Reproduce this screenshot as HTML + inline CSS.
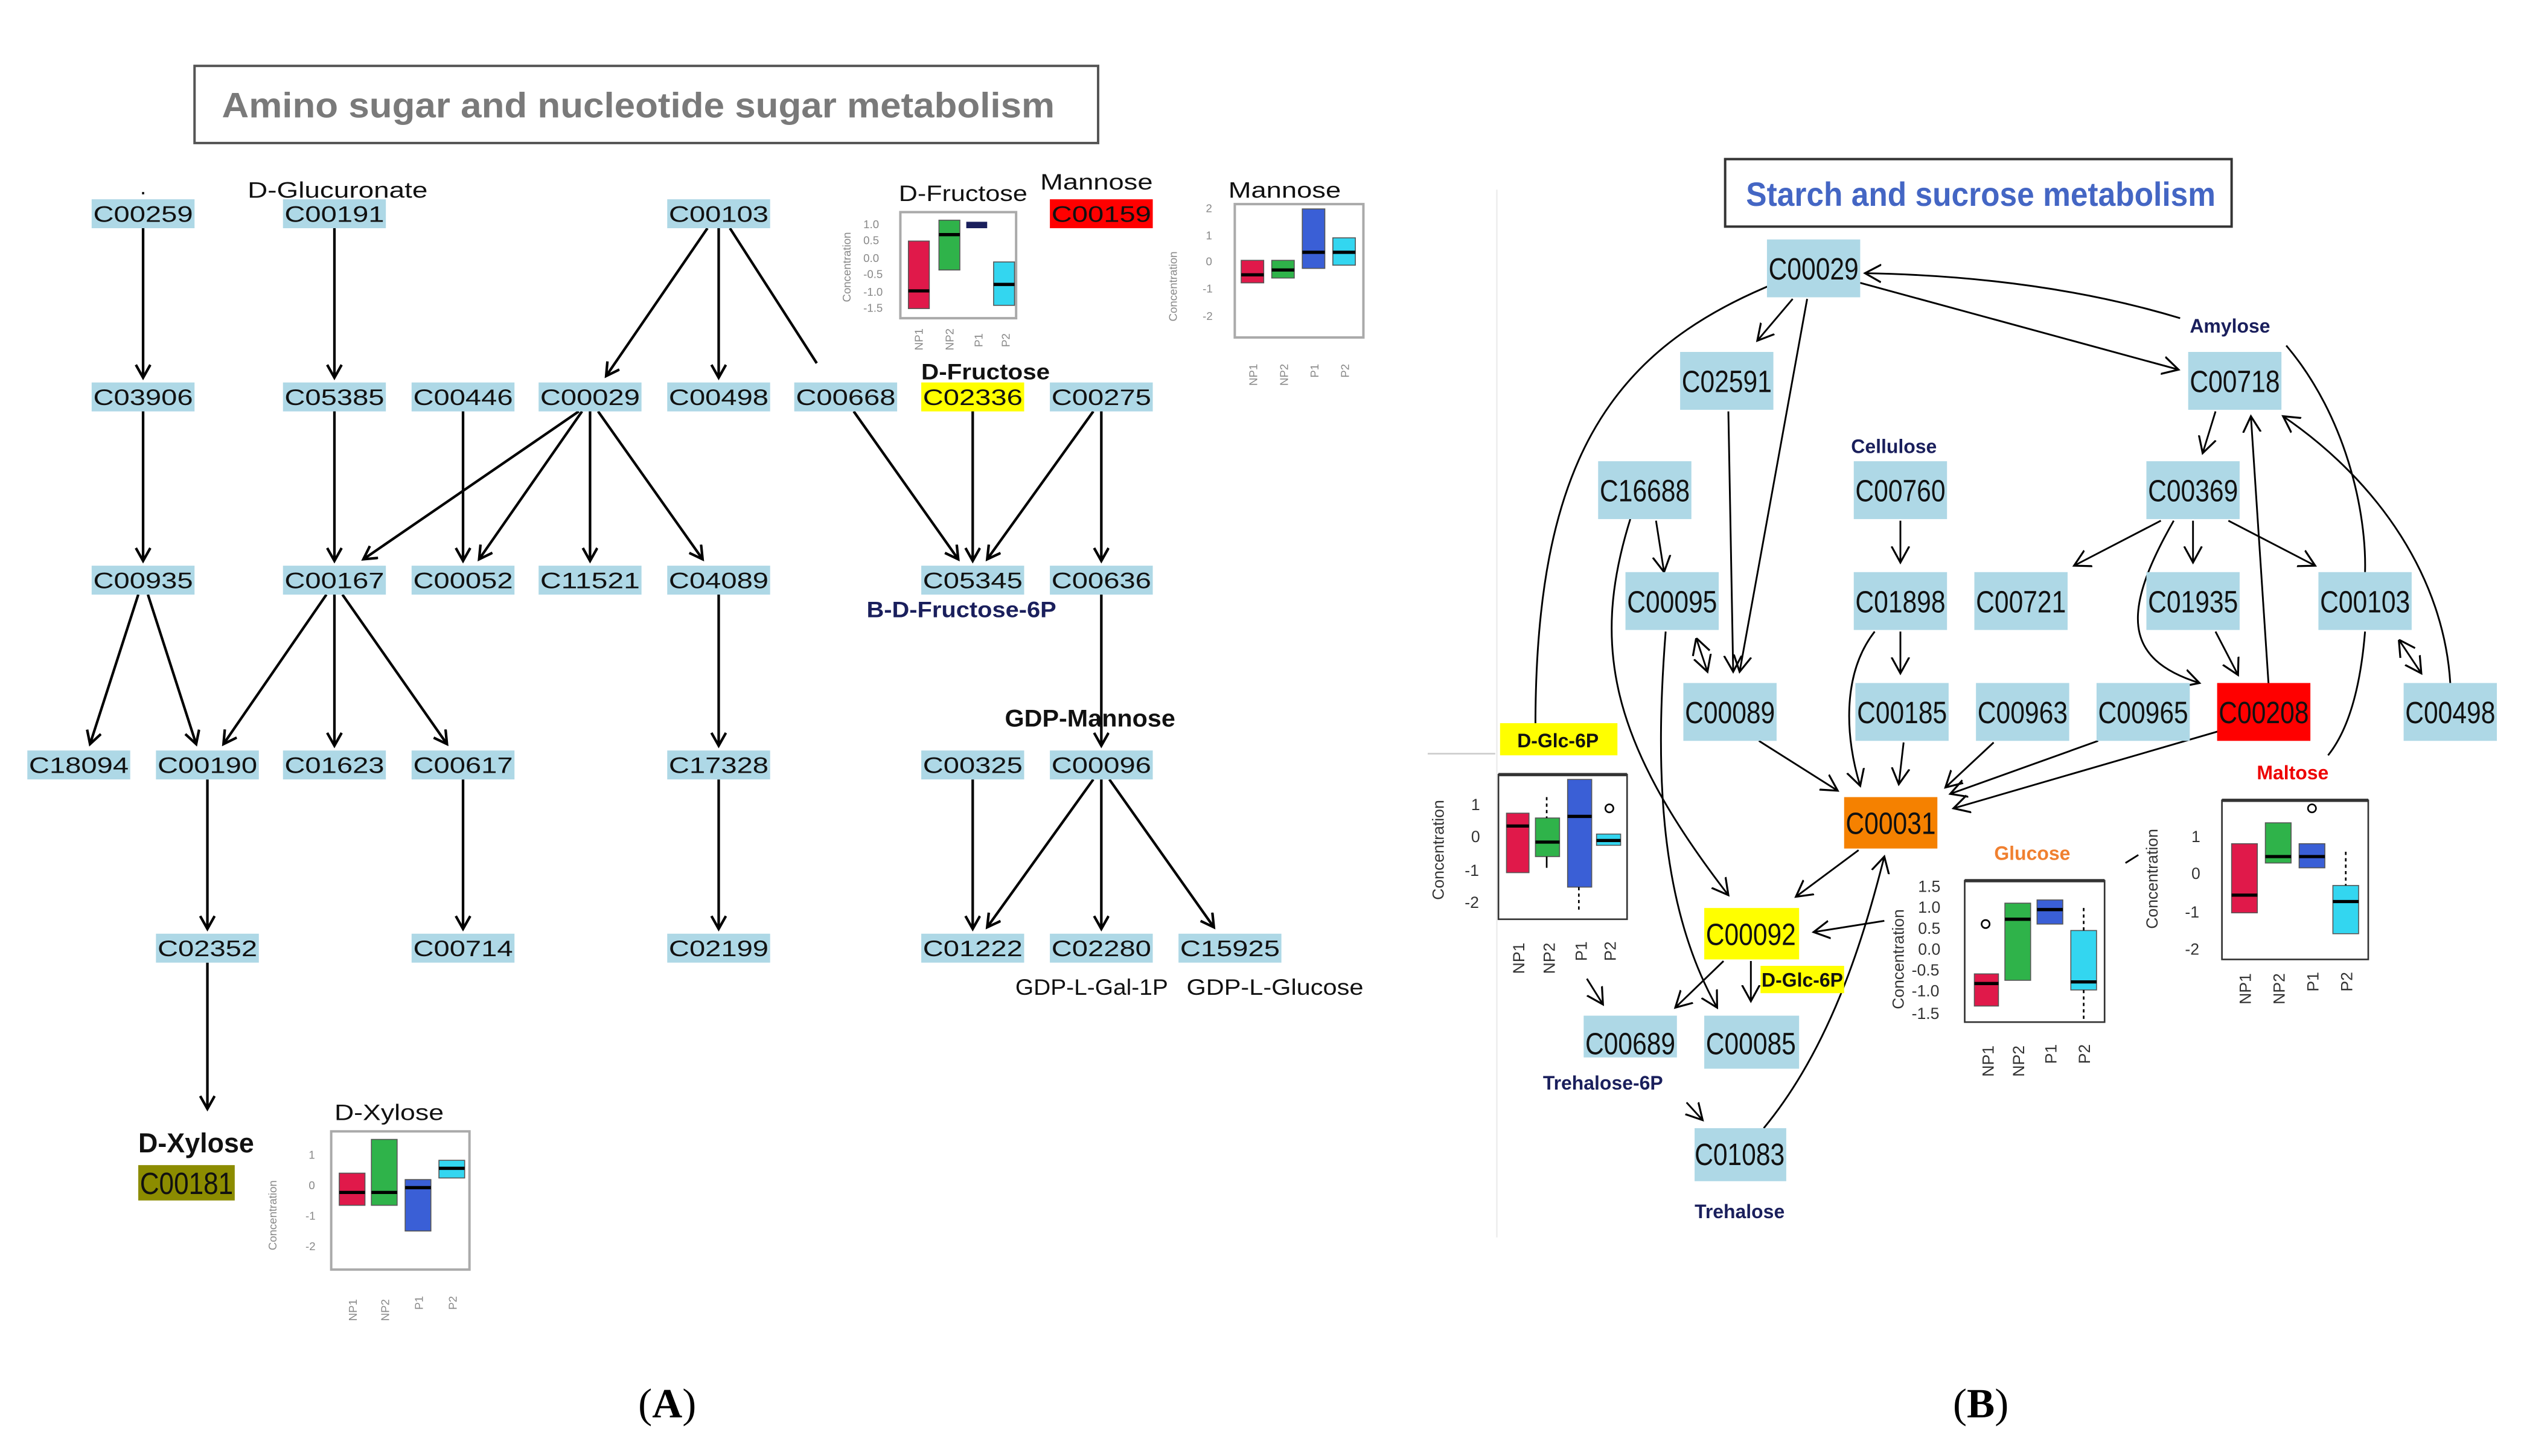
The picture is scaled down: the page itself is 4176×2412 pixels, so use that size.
<!DOCTYPE html>
<html><head><meta charset="utf-8"><style>
html,body{margin:0;padding:0;background:#fff;}
svg{display:block;}
.na rect{fill:#aed8e6;}
.na text{font-family:"Liberation Sans",sans-serif;font-size:14px;fill:#111;text-anchor:middle;}
.nb rect{fill:#aed8e6;}
.nb text{font-family:"Liberation Sans",sans-serif;font-size:19px;fill:#111;text-anchor:middle;}
.e{stroke:#000;stroke-width:1.6;fill:none;marker-end:url(#ah);}
.f{stroke:#000;stroke-width:1.1;fill:none;marker-end:url(#ah2);}
.g{stroke:#000;stroke-width:1.1;fill:none;}
.lb{font-family:"Liberation Sans",sans-serif;font-size:14px;fill:#111;text-anchor:middle;}
.bl{font-family:"Liberation Sans",sans-serif;font-size:12px;font-weight:bold;fill:#1a1f5c;text-anchor:middle;}
.ax{font-family:"Liberation Sans",sans-serif;font-size:10px;fill:#333;}
.axs{font-family:"Liberation Sans",sans-serif;font-size:7px;fill:#888;}
</style></head><body>
<svg width="4176" height="2412" viewBox="0 0 1568 906" preserveAspectRatio="none" xmlns="http://www.w3.org/2000/svg">
<defs>
<marker id="ah" markerUnits="userSpaceOnUse" markerWidth="14" markerHeight="14" refX="9" refY="5" orient="auto"><path d="M1,0.5 L9,5 L1,9.5" fill="none" stroke="#000" stroke-width="1.6"/></marker>
<marker id="ah2" markerUnits="userSpaceOnUse" markerWidth="14" markerHeight="14" refX="10" refY="6" orient="auto"><path d="M0,0.5 L10,6 L0,11.5" fill="none" stroke="#000" stroke-width="1.2"/></marker>
<marker id="as2" markerUnits="userSpaceOnUse" markerWidth="14" markerHeight="14" refX="0" refY="6" orient="auto"><path d="M10,0.5 L0,6 L10,11.5" fill="none" stroke="#000" stroke-width="1.2"/></marker>
</defs>
<rect width="1568" height="906" fill="#fff"/>

<!-- ===== PANEL A ===== -->
<rect x="121" y="41" width="562" height="48" fill="#fff" stroke="#555" stroke-width="1.5"/>
<text x="397" y="73" font-family="Liberation Sans,sans-serif" font-size="22" font-weight="bold" fill="#7a7a7a" text-anchor="middle" textLength="518" lengthAdjust="spacingAndGlyphs">Amino sugar and nucleotide sugar metabolism</text>

<g class="e">
<line x1="89" y1="142" x2="89" y2="235"/>
<line x1="208" y1="142" x2="208" y2="235"/>
<line x1="440" y1="142" x2="377" y2="234"/>
<line x1="447" y1="142" x2="447" y2="235"/>
<line x1="89" y1="256" x2="89" y2="349"/>
<line x1="208" y1="256" x2="208" y2="349"/>
<line x1="288" y1="256" x2="288" y2="349"/>
<line x1="360" y1="256" x2="226" y2="348"/>
<line x1="362" y1="256" x2="298" y2="348"/>
<line x1="367" y1="256" x2="367" y2="349"/>
<line x1="372" y1="256" x2="437" y2="348"/>
<line x1="531" y1="256" x2="596" y2="348"/>
<line x1="605" y1="256" x2="605" y2="349"/>
<line x1="680" y1="256" x2="614" y2="348"/>
<line x1="685" y1="256" x2="685" y2="349"/>
<line x1="86" y1="370" x2="56" y2="463"/>
<line x1="92" y1="370" x2="122" y2="463"/>
<line x1="203" y1="370" x2="139" y2="463"/>
<line x1="208" y1="370" x2="208" y2="464"/>
<line x1="213" y1="370" x2="278" y2="463"/>
<line x1="447" y1="370" x2="447" y2="464"/>
<line x1="685" y1="370" x2="685" y2="464"/>
<line x1="129" y1="485" x2="129" y2="578"/>
<line x1="288" y1="485" x2="288" y2="578"/>
<line x1="447" y1="485" x2="447" y2="578"/>
<line x1="605" y1="485" x2="605" y2="578"/>
<line x1="680" y1="485" x2="614" y2="577"/>
<line x1="685" y1="485" x2="685" y2="578"/>
<line x1="690" y1="485" x2="755" y2="577"/>
<line x1="129" y1="599" x2="129" y2="690"/>
</g>
<line x1="454" y1="142" x2="508" y2="226" stroke="#000" stroke-width="1.6"/>

<g class="na">
<rect x="57" y="124" width="64" height="18"/><text x="89" y="138" textLength="62" lengthAdjust="spacingAndGlyphs">C00259</text>
<rect x="176" y="124" width="64" height="18"/><text x="208" y="138" textLength="62" lengthAdjust="spacingAndGlyphs">C00191</text>
<rect x="415" y="124" width="64" height="18"/><text x="447" y="138" textLength="62" lengthAdjust="spacingAndGlyphs">C00103</text>
<rect x="653" y="124" width="64" height="18" style="fill:#f00"/><text x="685" y="138" textLength="62" lengthAdjust="spacingAndGlyphs">C00159</text>
<rect x="57" y="238" width="64" height="18"/><text x="89" y="252" textLength="62" lengthAdjust="spacingAndGlyphs">C03906</text>
<rect x="176" y="238" width="64" height="18"/><text x="208" y="252" textLength="62" lengthAdjust="spacingAndGlyphs">C05385</text>
<rect x="256" y="238" width="64" height="18"/><text x="288" y="252" textLength="62" lengthAdjust="spacingAndGlyphs">C00446</text>
<rect x="335" y="238" width="64" height="18"/><text x="367" y="252" textLength="62" lengthAdjust="spacingAndGlyphs">C00029</text>
<rect x="415" y="238" width="64" height="18"/><text x="447" y="252" textLength="62" lengthAdjust="spacingAndGlyphs">C00498</text>
<rect x="494" y="238" width="64" height="18"/><text x="526" y="252" textLength="62" lengthAdjust="spacingAndGlyphs">C00668</text>
<rect x="573" y="238" width="64" height="18" style="fill:#ff0"/><text x="605" y="252" textLength="62" lengthAdjust="spacingAndGlyphs">C02336</text>
<rect x="653" y="238" width="64" height="18"/><text x="685" y="252" textLength="62" lengthAdjust="spacingAndGlyphs">C00275</text>
<rect x="57" y="352" width="64" height="18"/><text x="89" y="366" textLength="62" lengthAdjust="spacingAndGlyphs">C00935</text>
<rect x="176" y="352" width="64" height="18"/><text x="208" y="366" textLength="62" lengthAdjust="spacingAndGlyphs">C00167</text>
<rect x="256" y="352" width="64" height="18"/><text x="288" y="366" textLength="62" lengthAdjust="spacingAndGlyphs">C00052</text>
<rect x="335" y="352" width="64" height="18"/><text x="367" y="366" textLength="62" lengthAdjust="spacingAndGlyphs">C11521</text>
<rect x="415" y="352" width="64" height="18"/><text x="447" y="366" textLength="62" lengthAdjust="spacingAndGlyphs">C04089</text>
<rect x="573" y="352" width="64" height="18"/><text x="605" y="366" textLength="62" lengthAdjust="spacingAndGlyphs">C05345</text>
<rect x="653" y="352" width="64" height="18"/><text x="685" y="366" textLength="62" lengthAdjust="spacingAndGlyphs">C00636</text>
<rect x="17" y="467" width="64" height="18"/><text x="49" y="481" textLength="62" lengthAdjust="spacingAndGlyphs">C18094</text>
<rect x="97" y="467" width="64" height="18"/><text x="129" y="481" textLength="62" lengthAdjust="spacingAndGlyphs">C00190</text>
<rect x="176" y="467" width="64" height="18"/><text x="208" y="481" textLength="62" lengthAdjust="spacingAndGlyphs">C01623</text>
<rect x="256" y="467" width="64" height="18"/><text x="288" y="481" textLength="62" lengthAdjust="spacingAndGlyphs">C00617</text>
<rect x="415" y="467" width="64" height="18"/><text x="447" y="481" textLength="62" lengthAdjust="spacingAndGlyphs">C17328</text>
<rect x="573" y="467" width="64" height="18"/><text x="605" y="481" textLength="62" lengthAdjust="spacingAndGlyphs">C00325</text>
<rect x="653" y="467" width="64" height="18"/><text x="685" y="481" textLength="62" lengthAdjust="spacingAndGlyphs">C00096</text>
<rect x="97" y="581" width="64" height="18"/><text x="129" y="595" textLength="62" lengthAdjust="spacingAndGlyphs">C02352</text>
<rect x="256" y="581" width="64" height="18"/><text x="288" y="595" textLength="62" lengthAdjust="spacingAndGlyphs">C00714</text>
<rect x="415" y="581" width="64" height="18"/><text x="447" y="595" textLength="62" lengthAdjust="spacingAndGlyphs">C02199</text>
<rect x="573" y="581" width="64" height="18"/><text x="605" y="595" textLength="62" lengthAdjust="spacingAndGlyphs">C01222</text>
<rect x="653" y="581" width="64" height="18"/><text x="685" y="595" textLength="62" lengthAdjust="spacingAndGlyphs">C02280</text>
<rect x="733" y="581" width="64" height="18"/><text x="765" y="595" textLength="62" lengthAdjust="spacingAndGlyphs">C15925</text>
</g>
<rect x="86" y="725" width="60" height="22" fill="#8c8c00"/>
<text x="116" y="743" font-family="Liberation Sans,sans-serif" font-size="19" fill="#111" text-anchor="middle" textLength="58" lengthAdjust="spacingAndGlyphs">C00181</text>

<text class="lb" x="89" y="121">.</text>
<text class="lb" x="210" y="123" textLength="112" lengthAdjust="spacingAndGlyphs">D-Glucuronate</text>
<text class="lb" x="599" y="125" textLength="80" lengthAdjust="spacingAndGlyphs">D-Fructose</text>
<text class="lb" x="682" y="118" textLength="70" lengthAdjust="spacingAndGlyphs">Mannose</text>
<text class="lb" x="799" y="123" textLength="70" lengthAdjust="spacingAndGlyphs">Mannose</text>
<text class="lb" x="613" y="236" style="font-weight:bold" textLength="80" lengthAdjust="spacingAndGlyphs">D-Fructose</text>
<text class="lb" x="598" y="384" style="fill:#1a1f5c;font-weight:bold;font-size:14px" textLength="118" lengthAdjust="spacingAndGlyphs">B-D-Fructose-6P</text>
<text class="lb" x="678" y="452" style="font-weight:bold;font-size:15px" textLength="106" lengthAdjust="spacingAndGlyphs">GDP-Mannose</text>
<text class="lb" x="679" y="619" textLength="95" lengthAdjust="spacingAndGlyphs">GDP-L-Gal-1P</text>
<text class="lb" x="793" y="619" textLength="110" lengthAdjust="spacingAndGlyphs">GDP-L-Glucose</text>
<text class="lb" x="122" y="717" style="font-weight:bold;font-size:17px" textLength="72" lengthAdjust="spacingAndGlyphs">D-Xylose</text>
<text class="lb" x="242" y="697" textLength="68" lengthAdjust="spacingAndGlyphs">D-Xylose</text>

<!-- fructose plot -->
<g>
<rect x="560" y="132" width="72" height="66" fill="none" stroke="#aaa" stroke-width="1.5"/>
<g class="axs"><text x="537" y="142">1.0</text><text x="537" y="152">0.5</text><text x="537" y="163">0.0</text><text x="537" y="173">-0.5</text><text x="537" y="184">-1.0</text><text x="537" y="194">-1.5</text>
<text transform="translate(529,188) rotate(-90)">Concentration</text>
<text transform="translate(574,218) rotate(-90)">NP1</text><text transform="translate(593,218) rotate(-90)">NP2</text><text transform="translate(611,216) rotate(-90)">P1</text><text transform="translate(628,216) rotate(-90)">P2</text></g>
<rect x="565" y="150" width="13" height="42" fill="#e0194a" stroke="#555" stroke-width=".6"/><line x1="565" y1="181" x2="578" y2="181" stroke="#000" stroke-width="2"/>
<rect x="584" y="137" width="13" height="31" fill="#2fb34a" stroke="#555" stroke-width=".6"/><line x1="584" y1="146" x2="597" y2="146" stroke="#000" stroke-width="2"/>
<rect x="601" y="138" width="13" height="4" fill="#1a1f5c"/>
<rect x="618" y="163" width="13" height="27" fill="#33d6f0" stroke="#555" stroke-width=".6"/><line x1="618" y1="177" x2="631" y2="177" stroke="#000" stroke-width="2"/>
</g>
<!-- mannose plot -->
<g>
<rect x="768" y="127" width="80" height="83" fill="none" stroke="#aaa" stroke-width="1.5"/>
<g class="axs"><text x="750" y="132">2</text><text x="750" y="149">1</text><text x="750" y="165">0</text><text x="748" y="182">-1</text><text x="748" y="199">-2</text>
<text transform="translate(732,200) rotate(-90)">Concentration</text>
<text transform="translate(782,240) rotate(-90)">NP1</text><text transform="translate(801,240) rotate(-90)">NP2</text><text transform="translate(820,235) rotate(-90)">P1</text><text transform="translate(839,235) rotate(-90)">P2</text></g>
<rect x="772" y="162" width="14" height="14" fill="#e0194a" stroke="#555" stroke-width=".6"/><line x1="772" y1="171" x2="786" y2="171" stroke="#000" stroke-width="2"/>
<rect x="791" y="162" width="14" height="11" fill="#2fb34a" stroke="#555" stroke-width=".6"/><line x1="791" y1="168" x2="805" y2="168" stroke="#000" stroke-width="2"/>
<rect x="810" y="130" width="14" height="37" fill="#3a5fd6" stroke="#555" stroke-width=".6"/><line x1="810" y1="157" x2="824" y2="157" stroke="#000" stroke-width="2"/>
<rect x="829" y="148" width="14" height="17" fill="#33d6f0" stroke="#555" stroke-width=".6"/><line x1="829" y1="157" x2="843" y2="157" stroke="#000" stroke-width="2"/>
</g>
<!-- xylose plot -->
<g>
<rect x="206" y="704" width="86" height="86" fill="none" stroke="#aaa" stroke-width="1.5"/>
<g class="axs"><text x="192" y="721">1</text><text x="192" y="740">0</text><text x="190" y="759">-1</text><text x="190" y="778">-2</text>
<text transform="translate(172,778) rotate(-90)">Concentration</text>
<text transform="translate(222,822) rotate(-90)">NP1</text><text transform="translate(242,822) rotate(-90)">NP2</text><text transform="translate(263,815) rotate(-90)">P1</text><text transform="translate(284,815) rotate(-90)">P2</text></g>
<rect x="211" y="730" width="16" height="20" fill="#e0194a" stroke="#555" stroke-width=".6"/><line x1="211" y1="742" x2="227" y2="742" stroke="#000" stroke-width="2"/>
<rect x="231" y="709" width="16" height="41" fill="#2fb34a" stroke="#555" stroke-width=".6"/><line x1="231" y1="742" x2="247" y2="742" stroke="#000" stroke-width="2"/>
<rect x="252" y="734" width="16" height="32" fill="#3a5fd6" stroke="#555" stroke-width=".6"/><line x1="252" y1="739" x2="268" y2="739" stroke="#000" stroke-width="2"/>
<rect x="273" y="722" width="16" height="11" fill="#33d6f0" stroke="#555" stroke-width=".6"/><line x1="273" y1="727" x2="289" y2="727" stroke="#000" stroke-width="2"/>
</g>

<text x="415" y="882" font-family="Liberation Serif,serif" font-size="26" text-anchor="middle">(<tspan font-weight="bold">A</tspan>)</text>

<!-- ===== PANEL B ===== -->
<line x1="888" y1="469" x2="930" y2="469" stroke="#ccc" stroke-width="1"/>
<line x1="931" y1="118" x2="931" y2="770" stroke="#eee" stroke-width="1"/>
<rect x="1073" y="99" width="315" height="42" fill="#fff" stroke="#333" stroke-width="1.5"/>
<text x="1232" y="128" font-family="Liberation Sans,sans-serif" font-size="21" font-weight="bold" fill="#4466c4" text-anchor="middle" textLength="292" lengthAdjust="spacingAndGlyphs">Starch and sucrose metabolism</text>

<g class="f">
<path d="M1356,198 Q1270,172 1160,170"/>
<line x1="1157" y1="176" x2="1355" y2="230"/>
<line x1="1115" y1="186" x2="1093" y2="212"/>
<line x1="1124" y1="186" x2="1082" y2="418"/>
<line x1="1075" y1="256" x2="1078" y2="418"/>
<line x1="1030" y1="324" x2="1035" y2="356"/>
<path d="M1014,323 C990,400 1000,460 1075,557"/>
<path d="M1036,393 C1030,470 1030,560 1068,627"/>
<line x1="1182" y1="324" x2="1182" y2="350"/>
<line x1="1182" y1="393" x2="1182" y2="419"/>
<line x1="1378" y1="256" x2="1370" y2="282"/>
<line x1="1344" y1="324" x2="1290" y2="352"/>
<line x1="1364" y1="324" x2="1364" y2="350"/>
<line x1="1386" y1="324" x2="1440" y2="352"/>
<path d="M1352,324 C1320,380 1320,410 1368,425"/>
<line x1="1378" y1="393" x2="1392" y2="420"/>
<line x1="1411" y1="426" x2="1400" y2="259"/>
<path d="M1524,425 C1520,360 1480,300 1420,259"/>
<line x1="1094" y1="461" x2="1143" y2="492"/>
<path d="M1166,393 C1145,420 1148,460 1157,489"/>
<line x1="1184" y1="462" x2="1181" y2="488"/>
<line x1="1240" y1="462" x2="1210" y2="490"/>
<line x1="1305" y1="461" x2="1213" y2="494"/>
<line x1="1380" y1="455" x2="1215" y2="503"/>
<line x1="1156" y1="529" x2="1117" y2="558"/>
<line x1="1172" y1="573" x2="1128" y2="580"/>
<line x1="1072" y1="598" x2="1042" y2="627"/>
<line x1="1089" y1="598" x2="1089" y2="623"/>
<line x1="987" y1="609" x2="997" y2="625"/>
<line x1="1049" y1="686" x2="1059" y2="697"/>
<path d="M1097,702 C1140,650 1160,580 1172,533"/>
</g>
<line x1="1055" y1="397" x2="1062" y2="418" stroke="#000" stroke-width="1.1" marker-end="url(#ah2)" marker-start="url(#as2)"/>
<line x1="1492" y1="398" x2="1506" y2="419" stroke="#000" stroke-width="1.1" marker-end="url(#ah2)" marker-start="url(#as2)"/>
<g class="g">
<path d="M1100,178 C1000,220 955,290 955,452"/>
<path d="M1422,215 C1460,260 1472,320 1471,356"/>
<path d="M1471,393 C1468,430 1460,455 1448,470"/>
<line x1="1322" y1="537" x2="1330" y2="532"/>
</g>

<g class="nb">
<rect x="1099" y="149" width="58" height="36"/><text x="1128" y="174" textLength="56" lengthAdjust="spacingAndGlyphs">C00029</text>
<rect x="1045" y="219" width="58" height="36"/><text x="1074" y="244" textLength="56" lengthAdjust="spacingAndGlyphs">C02591</text>
<rect x="1361" y="219" width="58" height="36"/><text x="1390" y="244" textLength="56" lengthAdjust="spacingAndGlyphs">C00718</text>
<rect x="994" y="287" width="58" height="36"/><text x="1023" y="312" textLength="56" lengthAdjust="spacingAndGlyphs">C16688</text>
<rect x="1153" y="287" width="58" height="36"/><text x="1182" y="312" textLength="56" lengthAdjust="spacingAndGlyphs">C00760</text>
<rect x="1335" y="287" width="58" height="36"/><text x="1364" y="312" textLength="56" lengthAdjust="spacingAndGlyphs">C00369</text>
<rect x="1011" y="356" width="58" height="36"/><text x="1040" y="381" textLength="56" lengthAdjust="spacingAndGlyphs">C00095</text>
<rect x="1153" y="356" width="58" height="36"/><text x="1182" y="381" textLength="56" lengthAdjust="spacingAndGlyphs">C01898</text>
<rect x="1228" y="356" width="58" height="36"/><text x="1257" y="381" textLength="56" lengthAdjust="spacingAndGlyphs">C00721</text>
<rect x="1335" y="356" width="58" height="36"/><text x="1364" y="381" textLength="56" lengthAdjust="spacingAndGlyphs">C01935</text>
<rect x="1442" y="356" width="58" height="36"/><text x="1471" y="381" textLength="56" lengthAdjust="spacingAndGlyphs">C00103</text>
<rect x="1047" y="425" width="58" height="36"/><text x="1076" y="450" textLength="56" lengthAdjust="spacingAndGlyphs">C00089</text>
<rect x="1154" y="425" width="58" height="36"/><text x="1183" y="450" textLength="56" lengthAdjust="spacingAndGlyphs">C00185</text>
<rect x="1229" y="425" width="58" height="36"/><text x="1258" y="450" textLength="56" lengthAdjust="spacingAndGlyphs">C00963</text>
<rect x="1304" y="425" width="58" height="36"/><text x="1333" y="450" textLength="56" lengthAdjust="spacingAndGlyphs">C00965</text>
<rect x="1379" y="425" width="58" height="36" style="fill:#f00"/><text x="1408" y="450" textLength="56" lengthAdjust="spacingAndGlyphs">C00208</text>
<rect x="1495" y="425" width="58" height="36"/><text x="1524" y="450" textLength="56" lengthAdjust="spacingAndGlyphs">C00498</text>
<rect x="1147" y="496" width="58" height="32" style="fill:#f58100"/><text x="1176" y="519" textLength="56" lengthAdjust="spacingAndGlyphs">C00031</text>
<rect x="1060" y="565" width="59" height="32" style="fill:#ff0"/><text x="1089" y="588" textLength="56" lengthAdjust="spacingAndGlyphs">C00092</text>
<rect x="985" y="632" width="58" height="26"/><text x="1014" y="656" textLength="56" lengthAdjust="spacingAndGlyphs">C00689</text>
<rect x="1060" y="632" width="59" height="33"/><text x="1089" y="656" textLength="56" lengthAdjust="spacingAndGlyphs">C00085</text>
<rect x="1054" y="702" width="57" height="33"/><text x="1082" y="725" textLength="56" lengthAdjust="spacingAndGlyphs">C01083</text>
</g>

<text class="bl" x="1387" y="207">Amylose</text>
<text class="bl" x="1178" y="282">Cellulose</text>
<rect x="933" y="450" width="73" height="20" fill="#ff0"/>
<text class="bl" x="969" y="465" style="fill:#111">D-Glc-6P</text>
<rect x="1095" y="601" width="52" height="17" fill="#ff0"/>
<text class="bl" x="1121" y="614" style="fill:#111">D-Glc-6P</text>
<text class="bl" x="1426" y="485" style="fill:#e00">Maltose</text>
<text class="bl" x="1264" y="535" style="fill:#f08030">Glucose</text>
<text class="bl" x="997" y="678">Trehalose-6P</text>
<text class="bl" x="1082" y="758">Trehalose</text>

<!-- Glc6P plot -->
<g>
<rect x="932" y="482" width="80" height="90" fill="none" stroke="#333" stroke-width="1"/>
<line x1="932" y1="482" x2="1012" y2="482" stroke="#333" stroke-width="2"/>
<g class="ax"><text x="915" y="504">1</text><text x="915" y="524">0</text><text x="911" y="545">-1</text><text x="911" y="565">-2</text>
<text transform="translate(898,560) rotate(-90)">Concentration</text>
<text transform="translate(948,606) rotate(-90)">NP1</text><text transform="translate(967,606) rotate(-90)">NP2</text><text transform="translate(987,598) rotate(-90)">P1</text><text transform="translate(1005,598) rotate(-90)">P2</text></g>
<rect x="937" y="506" width="14" height="37" fill="#e0194a" stroke="#555" stroke-width=".6"/><line x1="937" y1="514" x2="951" y2="514" stroke="#000" stroke-width="2"/>
<rect x="955" y="509" width="15" height="24" fill="#2fb34a" stroke="#555" stroke-width=".6"/><line x1="955" y1="524" x2="970" y2="524" stroke="#000" stroke-width="2"/>
<line x1="962" y1="496" x2="962" y2="509" stroke="#000" stroke-dasharray="2,2"/><line x1="962" y1="533" x2="962" y2="540" stroke="#000"/>
<rect x="975" y="485" width="15" height="67" fill="#3a5fd6" stroke="#555" stroke-width=".6"/><line x1="975" y1="508" x2="990" y2="508" stroke="#000" stroke-width="2"/>
<line x1="982" y1="552" x2="982" y2="568" stroke="#000" stroke-dasharray="2,2"/>
<rect x="993" y="519" width="15" height="7" fill="#33d6f0" stroke="#555" stroke-width=".6"/><line x1="993" y1="523" x2="1008" y2="523" stroke="#000" stroke-width="2"/>
<circle cx="1001" cy="503" r="2.5" fill="none" stroke="#000"/>
</g>
<!-- Glucose plot -->
<g>
<rect x="1222" y="548" width="87" height="88" fill="none" stroke="#333" stroke-width="1"/>
<line x1="1222" y1="548" x2="1309" y2="548" stroke="#333" stroke-width="2"/>
<g class="ax"><text x="1193" y="555">1.5</text><text x="1193" y="568">1.0</text><text x="1193" y="581">0.5</text><text x="1193" y="594">0.0</text><text x="1189" y="607">-0.5</text><text x="1189" y="620">-1.0</text><text x="1189" y="634">-1.5</text>
<text transform="translate(1184,628) rotate(-90)">Concentration</text>
<text transform="translate(1240,670) rotate(-90)">NP1</text><text transform="translate(1259,670) rotate(-90)">NP2</text><text transform="translate(1279,662) rotate(-90)">P1</text><text transform="translate(1300,662) rotate(-90)">P2</text></g>
<rect x="1228" y="606" width="15" height="20" fill="#e0194a" stroke="#555" stroke-width=".6"/><line x1="1228" y1="612" x2="1243" y2="612" stroke="#000" stroke-width="2"/>
<circle cx="1235" cy="575" r="2.5" fill="none" stroke="#000"/>
<rect x="1247" y="562" width="16" height="48" fill="#2fb34a" stroke="#555" stroke-width=".6"/><line x1="1247" y1="572" x2="1263" y2="572" stroke="#000" stroke-width="2"/>
<rect x="1267" y="560" width="16" height="15" fill="#3a5fd6" stroke="#555" stroke-width=".6"/><line x1="1267" y1="566" x2="1283" y2="566" stroke="#000" stroke-width="2"/>
<rect x="1288" y="579" width="16" height="37" fill="#33d6f0" stroke="#555" stroke-width=".6"/><line x1="1288" y1="611" x2="1304" y2="611" stroke="#000" stroke-width="2"/>
<line x1="1296" y1="565" x2="1296" y2="579" stroke="#000" stroke-dasharray="2,2"/><line x1="1296" y1="616" x2="1296" y2="634" stroke="#000" stroke-dasharray="2,2"/>
</g>
<!-- Maltose plot -->
<g>
<rect x="1382" y="498" width="91" height="99" fill="none" stroke="#333" stroke-width="1"/>
<line x1="1382" y1="498" x2="1473" y2="498" stroke="#333" stroke-width="2"/>
<g class="ax"><text x="1363" y="524">1</text><text x="1363" y="547">0</text><text x="1359" y="571">-1</text><text x="1359" y="594">-2</text>
<text transform="translate(1342,578) rotate(-90)">Concentration</text>
<text transform="translate(1400,625) rotate(-90)">NP1</text><text transform="translate(1421,625) rotate(-90)">NP2</text><text transform="translate(1442,617) rotate(-90)">P1</text><text transform="translate(1463,617) rotate(-90)">P2</text></g>
<rect x="1388" y="525" width="16" height="43" fill="#e0194a" stroke="#555" stroke-width=".6"/><line x1="1388" y1="557" x2="1404" y2="557" stroke="#000" stroke-width="2"/>
<rect x="1409" y="512" width="16" height="25" fill="#2fb34a" stroke="#555" stroke-width=".6"/><line x1="1409" y1="533" x2="1425" y2="533" stroke="#000" stroke-width="2"/>
<rect x="1430" y="525" width="16" height="15" fill="#3a5fd6" stroke="#555" stroke-width=".6"/><line x1="1430" y1="533" x2="1446" y2="533" stroke="#000" stroke-width="2"/>
<circle cx="1438" cy="503" r="2.5" fill="none" stroke="#000"/>
<rect x="1451" y="551" width="16" height="30" fill="#33d6f0" stroke="#555" stroke-width=".6"/><line x1="1451" y1="561" x2="1467" y2="561" stroke="#000" stroke-width="2"/>
<line x1="1459" y1="530" x2="1459" y2="551" stroke="#000" stroke-dasharray="2,2"/>
</g>

<text x="1232" y="882" font-family="Liberation Serif,serif" font-size="26" text-anchor="middle">(<tspan font-weight="bold">B</tspan>)</text>
</svg>
</body></html>
